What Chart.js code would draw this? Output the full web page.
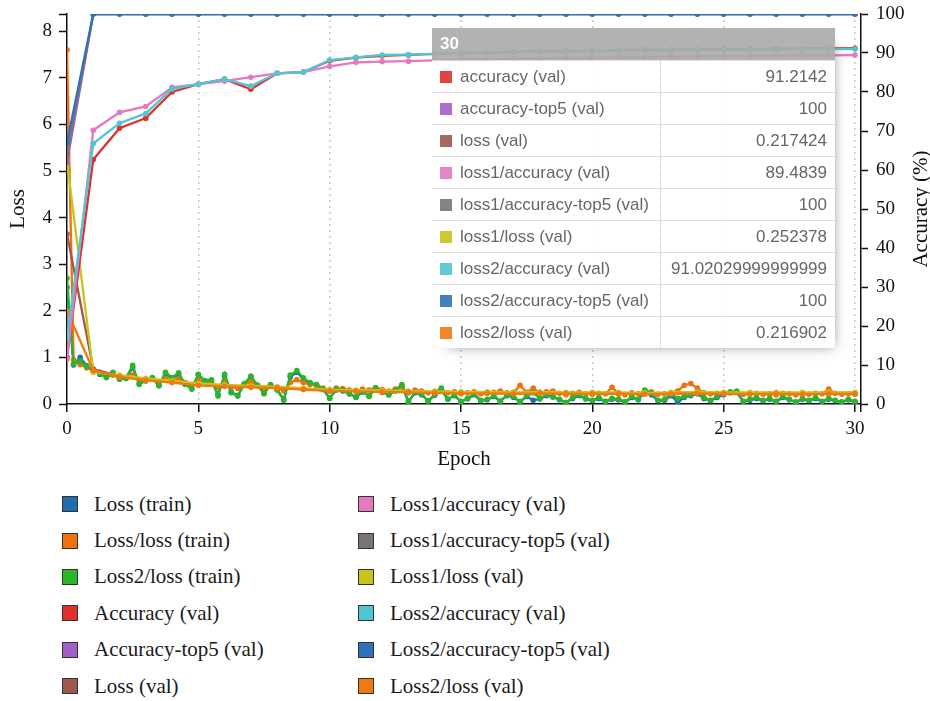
<!DOCTYPE html>
<html>
<head>
<meta charset="utf-8">
<script src="https://cdn.jsdelivr.net/npm/chart.js@4/dist/chart.umd.min.js"></script>
<style>
  html, body { margin: 0; padding: 0; background: #fff; }
  #wrap { position: relative; width: 930px; height: 701px; overflow: hidden; }
  #plot { position: absolute; left: 0; top: 0; }
  #tip {
    position: absolute; left: 432px; top: 28px; width: 403px;
    border-collapse: collapse; opacity: 0.9;
    box-shadow: 7px 7px 12px -9px #777;
    font-family: "Liberation Sans", Arial, sans-serif;
  }
  #tip th {
    background: #aaa; color: #fff; font-weight: bold; font-size: 17px;
    text-align: left; height: 32px; padding: 0 8px;
  }
  #tip td {
    background: #fff; font-size: 17px; color: #555; height: 31px;
    padding: 0 8px; border-top: 1px solid #ddd; white-space: nowrap;
  }
  #tip td.name { width: 212px; }
  #tip td.value { text-align: right; border-left: 1px dotted #bbb; }
  #tip td .sw { display: inline-block; width: 12px; height: 12px; margin-right: 8px; vertical-align: -1px; }
  #legend {
    position: absolute; left: 62px; top: 486px;
    display: grid; grid-template-columns: 296px 320px;
    grid-template-rows: repeat(6, 36.4px); grid-auto-flow: column;
    font-family: "Liberation Serif", serif; font-size: 21px; color: #1a1a1a;
  }
  #legend .item { display: flex; align-items: center; }
  #legend .item i {
    display: inline-block; width: 14px; height: 14px;
    border: 1.5px solid #333; margin-right: 16px;
  }
</style>
</head>
<body>
<div id="wrap">
  <canvas id="plot" width="930" height="470"></canvas>
  <table id="tip"></table>
  <div id="legend"></div>
</div>
<script>
// ---- series names and colours (legend order) ----
const seriesNames = [
  'Loss (train)', 'Loss/loss (train)', 'Loss2/loss (train)',
  'Accuracy (val)', 'Accuracy-top5 (val)', 'Loss (val)',
  'Loss1/accuracy (val)', 'Loss1/accuracy-top5 (val)', 'Loss1/loss (val)',
  'Loss2/accuracy (val)', 'Loss2/accuracy-top5 (val)', 'Loss2/loss (val)'
];
const seriesColors = [
  '#1f6fae', '#f07010', '#2ab52a',
  '#e0302a', '#a45ec8', '#a0584e',
  '#e678c0', '#7a7574', '#c8c41a',
  '#4fc6d4', '#2f72bc', '#f07a10'
];

// ---- training samples (every quarter epoch) ----
const trainEpochs = [
  0, 0.25, 0.5, 0.75, 1, 1.25, 1.5, 1.75,
  2, 2.25, 2.5, 2.75, 3, 3.25, 3.5, 3.75,
  4, 4.25, 4.5, 4.75, 5, 5.25, 5.5, 5.75,
  6, 6.25, 6.5, 6.75, 7, 7.25, 7.5, 7.75,
  8, 8.25, 8.5, 8.75, 9, 9.25, 9.5, 9.75,
  10, 10.25, 10.5, 10.75, 11, 11.25, 11.5, 11.75,
  12, 12.25, 12.5, 12.75, 13, 13.25, 13.5, 13.75,
  14, 14.25, 14.5, 14.75, 15, 15.25, 15.5, 15.75,
  16, 16.25, 16.5, 16.75, 17, 17.25, 17.5, 17.75,
  18, 18.25, 18.5, 18.75, 19, 19.25, 19.5, 19.75,
  20, 20.25, 20.5, 20.75, 21, 21.25, 21.5, 21.75,
  22, 22.25, 22.5, 22.75, 23, 23.25, 23.5, 23.75,
  24, 24.25, 24.5, 24.75, 25, 25.25, 25.5, 25.75,
  26, 26.25, 26.5, 26.75, 27, 27.25, 27.5, 27.75,
  28, 28.25, 28.5, 28.75, 29, 29.25, 29.5, 29.75,
  30
];
const lossTrain = [
  2.50, 0.84, 1.00, 0.82, 0.72, 0.64, 0.58, 0.64,
  0.54, 0.55, 0.78, 0.44, 0.50, 0.55, 0.40, 0.64,
  0.56, 0.63, 0.43, 0.33, 0.62, 0.50, 0.50, 0.20,
  0.60, 0.26, 0.18, 0.42, 0.58, 0.40, 0.24, 0.40,
  0.31, 0.10, 0.58, 0.68, 0.54, 0.45, 0.40, 0.31,
  0.13, 0.30, 0.28, 0.22, 0.15, 0.26, 0.17, 0.33,
  0.25, 0.20, 0.28, 0.38, 0.06, 0.24, 0.20, 0.07,
  0.19, 0.30, 0.10, 0.18, 0.05, 0.11, 0.20, 0.07,
  0.09, 0.16, 0.06, 0.18, 0.14, 0.05, 0.16, 0.08,
  0.11, 0.18, 0.15, 0.09, 0.03, 0.12, 0.18, 0.11,
  0.07, 0.12, 0.05, 0.10, 0.09, 0.04, 0.14, 0.09,
  0.26, 0.20, 0.07, 0.08, 0.18, 0.04, 0.14, 0.18,
  0.22, 0.12, 0.07, 0.14, 0.20, 0.24, 0.25, 0.05,
  0.08, 0.12, 0.07, 0.10, 0.05, 0.14, 0.09, 0.04,
  0.10, 0.07, 0.12, 0.05, 0.10, 0.07, 0.04, 0.09,
  0.05
];
const lossLossTrain = [
  7.60, 0.95, 0.85, 0.78, 0.72, 0.68, 0.63, 0.62,
  0.58, 0.57, 0.62, 0.52, 0.52, 0.54, 0.48, 0.55,
  0.52, 0.54, 0.46, 0.42, 0.52, 0.46, 0.46, 0.36,
  0.50, 0.36, 0.34, 0.42, 0.48, 0.40, 0.34, 0.40,
  0.36, 0.28, 0.46, 0.52, 0.46, 0.42, 0.40, 0.34,
  0.28, 0.34, 0.33, 0.30, 0.28, 0.32, 0.30, 0.35,
  0.31, 0.28, 0.32, 0.36, 0.24, 0.30, 0.28, 0.24,
  0.27, 0.31, 0.24, 0.26, 0.22, 0.24, 0.26, 0.22,
  0.23, 0.25, 0.28, 0.24, 0.25, 0.40, 0.25, 0.34,
  0.24, 0.26, 0.28, 0.23, 0.20, 0.23, 0.25, 0.22,
  0.21, 0.23, 0.22, 0.36, 0.22, 0.20, 0.24, 0.22,
  0.28, 0.26, 0.21, 0.22, 0.24, 0.28, 0.40, 0.44,
  0.34, 0.24, 0.22, 0.23, 0.24, 0.25, 0.26, 0.21,
  0.22, 0.23, 0.21, 0.22, 0.20, 0.23, 0.22, 0.20,
  0.22, 0.21, 0.23, 0.22, 0.32, 0.23, 0.21, 0.22,
  0.22
];
const loss2LossTrain = [
  2.70, 0.86, 0.92, 0.80, 0.74, 0.66, 0.57, 0.68,
  0.53, 0.56, 0.83, 0.42, 0.50, 0.57, 0.39, 0.68,
  0.57, 0.67, 0.42, 0.32, 0.64, 0.50, 0.52, 0.17,
  0.64, 0.24, 0.17, 0.44, 0.60, 0.40, 0.22, 0.42,
  0.30, 0.08, 0.62, 0.72, 0.56, 0.46, 0.42, 0.32,
  0.12, 0.32, 0.30, 0.22, 0.14, 0.28, 0.16, 0.35,
  0.26, 0.20, 0.30, 0.42, 0.04, 0.26, 0.22, 0.06,
  0.20, 0.34, 0.10, 0.20, 0.05, 0.12, 0.22, 0.08,
  0.10, 0.18, 0.06, 0.20, 0.16, 0.05, 0.18, 0.24,
  0.12, 0.20, 0.16, 0.10, 0.03, 0.14, 0.20, 0.12,
  0.08, 0.14, 0.06, 0.12, 0.10, 0.05, 0.16, 0.10,
  0.30, 0.24, 0.08, 0.10, 0.22, 0.12, 0.16, 0.20,
  0.26, 0.14, 0.08, 0.16, 0.22, 0.26, 0.28, 0.06,
  0.10, 0.14, 0.08, 0.12, 0.06, 0.16, 0.10, 0.04,
  0.12, 0.08, 0.14, 0.06, 0.12, 0.08, 0.04, 0.10,
  0.05
];

// ---- validation, once per epoch ----
const valEpochs = [0, 1, 2, 3, 4, 5, 6, 7, 8, 9, 10, 11, 12, 13, 14, 15,
  16, 17, 18, 19, 20, 21, 22, 23, 24, 25, 26, 27, 28, 29, 30];
const accuracyVal = [12, 62.7, 70.7, 73.3, 80.0, 82.0, 83.3, 80.7, 84.8, 85.1, 88.0,
  88.8, 89.3, 89.5, 89.8, 90.0, 90.1, 90.3, 90.4, 90.5, 90.5,
  90.7, 90.8, 90.8, 90.9, 91.0, 91.0, 91.1, 91.1, 91.2, 91.2142];
const accuracyTop5Val = [62, 100, 100, 100, 100, 100, 100, 100, 100, 100, 100,
  100, 100, 100, 100, 100, 100, 100, 100, 100, 100,
  100, 100, 100, 100, 100, 100, 100, 100, 100, 100];
const lossVal = [3.65, 0.75, 0.60, 0.53, 0.47, 0.41, 0.39, 0.37, 0.35, 0.32, 0.29,
  0.28, 0.27, 0.26, 0.25, 0.24, 0.24, 0.23, 0.24, 0.23, 0.23,
  0.22, 0.22, 0.23, 0.24, 0.22, 0.22, 0.22, 0.22, 0.22, 0.217424];
const loss1AccuracyVal = [11.5, 70.2, 74.8, 76.3, 81.2, 82.0, 82.8, 83.8, 84.8, 85.1, 86.6,
  87.6, 87.8, 87.9, 88.1, 88.2, 88.4, 88.5, 88.6, 88.7, 88.8,
  88.9, 88.9, 89.0, 89.1, 89.2, 89.2, 89.3, 89.4, 89.4, 89.4839];
const loss1AccuracyTop5Val = [64, 100, 100, 100, 100, 100, 100, 100, 100, 100, 100,
  100, 100, 100, 100, 100, 100, 100, 100, 100, 100,
  100, 100, 100, 100, 100, 100, 100, 100, 100, 100];
const loss1LossVal = [5.2, 0.68, 0.62, 0.55, 0.50, 0.44, 0.41, 0.39, 0.37, 0.34, 0.31,
  0.30, 0.29, 0.28, 0.27, 0.26, 0.26, 0.25, 0.26, 0.25, 0.25,
  0.25, 0.24, 0.25, 0.26, 0.25, 0.25, 0.25, 0.25, 0.25, 0.252378];
const loss2AccuracyVal = [17, 66.8, 72.0, 74.5, 80.8, 82.0, 83.3, 81.5, 84.8, 85.1, 88.2,
  88.9, 89.5, 89.6, 89.8, 90.0, 90.1, 90.2, 90.3, 90.4, 90.5,
  90.6, 90.6, 90.7, 90.8, 90.8, 90.9, 90.9, 91.0, 91.0, 91.02029999999999];
const loss2AccuracyTop5Val = [67, 100, 100, 100, 100, 100, 100, 100, 100, 100, 100,
  100, 100, 100, 100, 100, 100, 100, 100, 100, 100,
  100, 100, 100, 100, 100, 100, 100, 100, 100, 100];
const loss2LossVal = [2.0, 0.72, 0.58, 0.51, 0.46, 0.40, 0.38, 0.36, 0.34, 0.31, 0.28,
  0.27, 0.26, 0.25, 0.24, 0.23, 0.23, 0.22, 0.23, 0.22, 0.22,
  0.22, 0.21, 0.22, 0.23, 0.22, 0.21, 0.22, 0.21, 0.22, 0.216902];

// ---- axis ticks ----
const epochTicks = [0, 5, 10, 15, 20, 25, 30];
const lossTicks = [0, 1, 2, 3, 4, 5, 6, 7, 8];
const accuracyTicks = [0, 10, 20, 30, 40, 50, 60, 70, 80, 90, 100];

// axis extents: the loss axis is stretched so its top meets 100 %
const epochMax = 30.23;
const lossMax = 8.37;

// series table: values, x samples, axis and stacking (lower order is painted on top)
const seriesValues = [
  [lossTrain, trainEpochs, 'yLoss', 12],
  [lossLossTrain, trainEpochs, 'yLoss', 11],
  [loss2LossTrain, trainEpochs, 'yLoss', 10],
  [accuracyVal, valEpochs, 'yAcc', 4],
  [accuracyTop5Val, valEpochs, 'yAcc', 6],
  [lossVal, valEpochs, 'yLoss', 9],
  [loss1AccuracyVal, valEpochs, 'yAcc', 3],
  [loss1AccuracyTop5Val, valEpochs, 'yAcc', 5],
  [loss1LossVal, valEpochs, 'yLoss', 8],
  [loss2AccuracyVal, valEpochs, 'yAcc', 2],
  [loss2AccuracyTop5Val, valEpochs, 'yAcc', 1],
  [loss2LossVal, valEpochs, 'yLoss', 7]
];

const datasets = seriesValues.map(([ys, xs, axis, order], i) => ({
  label: seriesNames[i],
  data: xs.map((x, j) => ({ x: x, y: ys[j] })),
  yAxisID: axis,
  order: order,
  borderColor: seriesColors[i],
  backgroundColor: seriesColors[i],
  borderWidth: 2.3,
  pointRadius: 2.8,
  pointBorderWidth: 0,
  tension: 0
}));

const serif = "'Liberation Serif', 'Times New Roman', serif";
const ink = '#111';

const tickFont = { family: serif, size: 19 };
const titleFont = { family: serif, size: 21, lineHeight: 1 };

// fixed axis box sizes, no extra room reserved for overhanging tick labels
const fixBox = (w, h) => s => {
  if (w !== null) s.width = w;
  if (h !== null) s.height = h;
  s.paddingTop = 0; s.paddingBottom = 0; s.paddingLeft = 0; s.paddingRight = 0;
};

// vertical title on the right, reading upwards like the left one
const rightTitle = {
  id: 'rightTitle',
  afterDraw(chart) {
    const s = chart.scales.yAcc;
    const ctx = chart.ctx;
    ctx.save();
    ctx.translate(s.right - 9, (s.top + s.bottom) / 2);
    ctx.rotate(-Math.PI / 2);
    ctx.font = "21px " + serif;
    ctx.fillStyle = ink;
    ctx.textAlign = 'center';
    ctx.textBaseline = 'middle';
    ctx.fillText('Accuracy (%)', 0, 0);
    ctx.restore();
  }
};

const chart = new Chart(document.getElementById('plot'), {
  type: 'line',
  data: { datasets: datasets },
  plugins: [rightTitle],
  options: {
    responsive: false,
    animation: false,
    devicePixelRatio: 1,
    layout: { autoPadding: false, padding: { top: 14, left: 0, right: 0, bottom: 0 } },
    plugins: { legend: { display: false }, tooltip: { enabled: false } },
    scales: {
      x: {
        type: 'linear', min: 0, max: epochMax,
        afterBuildTicks: s => { s.ticks = epochTicks.concat([epochMax]).map(v => ({ value: v })); },
        afterFit: fixBox(null, 66),
        ticks: {
          font: tickFont, color: ink, padding: 6, maxRotation: 0,
          callback: v => (epochTicks.includes(v) ? String(v) : '')
        },
        grid: {
          color: c => (c.tick && c.tick.value > 0 && epochTicks.includes(c.tick.value)) ? '#c9c9c9' : 'rgba(0,0,0,0)',
          lineWidth: 1.5, tickColor: ink, tickLength: 8, tickWidth: 1.5
        },
        border: { color: ink, width: 1.5, dash: [2, 4] },
        title: { display: true, text: 'Epoch', font: titleFont, color: ink, padding: { top: 0, bottom: 0 } }
      },
      yLoss: {
        type: 'linear', position: 'left', min: 0, max: lossMax,
        afterBuildTicks: s => { s.ticks = lossTicks.concat([lossMax]).map(v => ({ value: v })); },
        afterFit: fixBox(67, null),
        ticks: {
          font: tickFont, color: ink, padding: 7,
          callback: v => (lossTicks.includes(v) ? String(v) : '')
        },
        grid: { drawOnChartArea: false, tickColor: ink, tickLength: 8, tickWidth: 1.5 },
        border: { color: ink, width: 1.5 },
        title: { display: true, text: 'Loss', font: titleFont, color: ink, padding: { top: 8, bottom: 0 } }
      },
      yAcc: {
        type: 'linear', position: 'right', min: 0, max: 100,
        afterBuildTicks: s => { s.ticks = accuracyTicks.map(v => ({ value: v })); },
        afterFit: fixBox(69, null),
        ticks: { font: tickFont, color: ink, padding: 8 },
        grid: { drawOnChartArea: false, tickColor: ink, tickLength: 7, tickWidth: 1.5 },
        border: { color: ink, width: 1.5 }
      }
    }
  }
});

// ---- value table for the last validation epoch ----
(function buildTip() {
  const tip = document.getElementById('tip');
  const last = valEpochs.length - 1;
  let html = '<tr><th colspan="2">' + valEpochs[last] + '</th></tr>';
  seriesValues.forEach(([ys, xs], i) => {
    if (xs !== valEpochs) return;
    const name = seriesNames[i].charAt(0).toLowerCase() + seriesNames[i].slice(1);
    html += '<tr><td class="name"><span class="sw" style="background:' + seriesColors[i] + '"></span>' +
      name + '</td><td class="value">' + String(ys[last]) + '</td></tr>';
  });
  tip.innerHTML = html;
})();

// ---- legend, two columns ----
(function buildLegend() {
  const box = document.getElementById('legend');
  chart.data.datasets.forEach(ds => {
    const item = document.createElement('div');
    item.className = 'item';
    const sw = document.createElement('i');
    sw.style.background = ds.borderColor;
    item.appendChild(sw);
    item.appendChild(document.createTextNode(ds.label));
    box.appendChild(item);
  });
})();
</script>
</body>
</html>
